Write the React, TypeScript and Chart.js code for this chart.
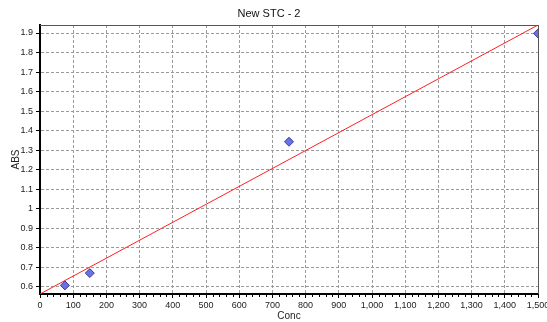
import React, { useEffect, useRef } from "react";
import { Chart, registerables } from "chart.js";

Chart.register(...registerables);

const chartTitle = "New STC - 2";
const xAxisTitle = "Conc";
const yAxisTitle = "ABS";

// standards (measured points)
const stdConc = [75, 150, 750, 1500];
const stdAbs = [0.607, 0.670, 1.343, 1.898];

// calibration (fit) line end points
const fitConc = [0, 1500];
const fitAbs = [0.563, 1.941];

// axis ticks
const xTicks = [0, 100, 200, 300, 400, 500, 600, 700, 800, 900, 1000, 1100, 1200, 1300, 1400, 1500];
const yTicks = [0.6, 0.7, 0.8, 0.9, 1.0, 1.1, 1.2, 1.3, 1.4, 1.5, 1.6, 1.7, 1.8, 1.9];
const xMinorStep = 20;

const FONT = "'Liberation Sans', Arial, sans-serif";

const framePlugin = {
  id: "frameAndMinor",
  afterDraw(chart: any) {
    const { ctx, chartArea } = chart;
    const xs = chart.scales.x;
    ctx.save();
    // top and right frame
    ctx.strokeStyle = "#555";
    ctx.lineWidth = 1;
    ctx.beginPath();
    ctx.moveTo(chartArea.left, chartArea.top + 0.5);
    ctx.lineTo(chartArea.right + 0.5, chartArea.top + 0.5);
    ctx.lineTo(chartArea.right + 0.5, chartArea.bottom);
    ctx.stroke();
    // minor ticks on the x axis
    ctx.strokeStyle = "#000";
    ctx.beginPath();
    for (let v = xs.min; v <= xs.max; v += xMinorStep) {
      if (xTicks.includes(v)) continue;
      const px = Math.round(xs.getPixelForValue(v)) + 0.5;
      ctx.moveTo(px, chartArea.bottom);
      ctx.lineTo(px, chartArea.bottom + 3);
    }
    ctx.stroke();
    ctx.restore();
  },
};

export default function App() {
  const ref = useRef<HTMLCanvasElement | null>(null);

  useEffect(() => {
    document.body.style.margin = "0";
    const canvas = ref.current;
    if (!canvas) return;
    const chart = new Chart(canvas, {
      type: "scatter",
      data: {
        datasets: [
          {
            type: "line",
            label: "fit",
            data: fitConc.map((x, i) => ({ x, y: fitAbs[i] })),
            borderColor: "#ff2020",
            borderWidth: 1,
            pointRadius: 0,
            fill: false,
            order: 2,
          } as any,
          {
            type: "scatter",
            label: "std",
            data: stdConc.map((x, i) => ({ x, y: stdAbs[i] })),
            pointStyle: "rectRot",
            pointRadius: 4.5,
            backgroundColor: "#6a70e6",
            borderColor: "#3a3aa0",
            borderWidth: 1,
            clip: 0,
            order: 1,
          } as any,
        ],
      },
      options: {
        responsive: false,
        animation: false,
        devicePixelRatio: 1,
        layout: { padding: { left: 0, right: 9, top: 0, bottom: 0 } },
        plugins: {
          legend: { display: false },
          tooltip: { enabled: false },
          title: {
            display: true,
            text: chartTitle,
            color: "#111",
            font: { family: FONT, size: 11, weight: "normal" },
            padding: { top: 7.4, bottom: 4.4 },
          },
        },
        scales: {
          x: {
            type: "linear",
            min: 0,
            max: 1500,
            afterBuildTicks: (s: any) => {
              s.ticks = xTicks.map((v) => ({ value: v }));
            },
            afterFit: (s: any) => {
              s.height = 28;
              s.paddingLeft = 0;
              s.paddingRight = 0;
            },
            ticks: {
              autoSkip: false,
              maxRotation: 0,
              padding: 2,
              color: "#222",
              font: { family: FONT, size: 9 },
              callback: (v: any) => Number(v).toLocaleString("en-US"),
            },
            grid: {
              color: "#9a9a9a",
              lineWidth: 1,
              tickLength: 4,
              tickColor: "#000",
              tickBorderDash: [],
            },
            border: { display: true, color: "#000", width: 2, dash: [3, 2] },
            title: {
              display: true,
              text: xAxisTitle,
              color: "#222",
              font: { family: FONT, size: 10 },
              padding: { top: 0, bottom: 0 },
            },
          },
          y: {
            type: "linear",
            min: 0.563,
            max: 1.941,
            afterBuildTicks: (s: any) => {
              s.ticks = yTicks.map((v) => ({ value: v }));
            },
            afterFit: (s: any) => {
              s.width = 40;
              s.paddingTop = 0;
              s.paddingBottom = 0;
            },
            ticks: {
              padding: 3,
              color: "#222",
              font: { family: FONT, size: 9 },
              callback: (v: any) => String(Number(Number(v).toFixed(1))),
            },
            grid: {
              color: "#9a9a9a",
              lineWidth: 1,
              tickLength: 4,
              tickColor: "#000",
              tickBorderDash: [],
            },
            border: { display: true, color: "#000", width: 2, dash: [3, 2] },
            title: {
              display: true,
              text: yAxisTitle,
              color: "#222",
              font: { family: FONT, size: 10 },
              padding: { top: 10, bottom: 0 },
            },
          },
        },
      },
      plugins: [framePlugin],
    });
    return () => chart.destroy();
  }, []);

  return (
    <div style={{ width: 547, height: 322, background: "#fff" }}>
      <canvas ref={ref} width={547} height={322} />
    </div>
  );
}
